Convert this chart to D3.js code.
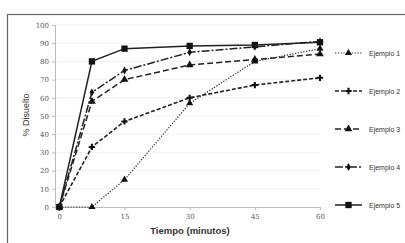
<!DOCTYPE html>
<html lang="es">
<head>
<meta charset="utf-8"/>
<style>
  body { margin: 0; background: #fff; }
  svg { display: block; }
  .tick text { font-family: "DejaVu Serif", serif; font-size: 7px; fill: #555; }
  .legend text { font-family: "Liberation Sans", Arial, sans-serif; font-size: 7px; fill: #333; }
</style>
</head>
<body>
<svg id="chart" width="405" height="243"></svg>
<script src="https://d3js.org/d3.v7.min.js"></script>
<script>
  // tiempos de muestreo (minutos)
  let tiempos = [0, 7.5, 15, 30, 45, 60]
  let ejemplo1 = [0, 0, 15, 57, 80, 87]
  let ejemplo2 = [0, 33, 47, 60, 67, 71]
  let ejemplo3 = [0, 58, 70, 78, 81, 84]
  let ejemplo4 = [0, 63, 75, 85, 88, 91]
  let ejemplo5 = [0, 80, 87, 88.5, 89, 90.5]
  let nombres = ["Ejemplo 1", "Ejemplo 2", "Ejemplo 3", "Ejemplo 4", "Ejemplo 5"]
  let xTicks = [0, 15, 30, 45, 60]
  let yTicks = [0, 10, 20, 30, 40, 50, 60, 70, 80, 90, 100]

  let series = [ejemplo1, ejemplo2, ejemplo3, ejemplo4, ejemplo5]
  // estilo de cada serie: trazo y marcador
  let dashes = ["1.2,1.6", "4,2", "6,3", "8,2,2,2", null]
  let widths = [1.2, 1.6, 1.5, 1.5, 1.5]
  let symbols = [d3.symbolTriangle, d3.symbolCross, d3.symbolTriangle, d3.symbolDiamond, d3.symbolSquare]
  let sizes = [22, 22, 26, 18, 40]

  let svg = d3.select("#chart")

  // marco del grafico
  svg.append("rect")
    .attr("x", 7.5).attr("y", 14.5)
    .attr("width", 410).attr("height", 240)
    .attr("fill", "none").attr("stroke", "#666").attr("stroke-width", 1.2)

  let xScale = d3.scaleLinear().domain([-1, 60]).range([55, 320])
  let yScale = d3.scaleLinear().domain([0, 100]).range([207, 25])

  // lineas de cuadricula
  svg.append("g")
    .selectAll("line")
    .data(yTicks.slice(1))
    .enter()
    .append("line")
    .attr("x1", xScale(-1)).attr("x2", xScale(60))
    .attr("y1", d => yScale(d)).attr("y2", d => yScale(d))
    .attr("stroke", "#eee").attr("stroke-width", 0.8)

  let yAxis = svg.append("g")
    .attr("transform", "translate(" + xScale(-1) + ",0)")
    .call(d3.axisLeft(yScale).tickValues(yTicks).tickSize(3).tickPadding(3))
  yAxis.selectAll("line, path").attr("stroke", "#bbb")

  let xAxis = svg.append("g")
    .attr("transform", "translate(0," + yScale(0) + ")")
    .call(d3.axisBottom(xScale).tickValues(xTicks).tickSize(3).tickPadding(4).tickSizeOuter(0))
  xAxis.selectAll("line, path").attr("stroke", "#bbb")

  svg.append("text")
    .attr("transform", "translate(29,115) rotate(-90)")
    .attr("text-anchor", "middle")
    .style("font-family", "Liberation Sans, Arial, sans-serif")
    .style("font-size", "9px").style("fill", "#333")
    .text("% Disuelto")

  svg.append("text")
    .attr("x", 190).attr("y", 234)
    .attr("text-anchor", "middle")
    .style("font-family", "Liberation Sans, Arial, sans-serif")
    .style("font-size", "9.5px").style("font-weight", "bold").style("fill", "#333")
    .text("Tiempo (minutos)")

  let line = d3.line()
    .x((d, i) => xScale(tiempos[i]))
    .y(d => yScale(d))

  series.forEach((s, k) => {
    svg.append("path")
      .datum(s)
      .attr("d", line)
      .attr("fill", "none")
      .attr("stroke", "#222")
      .attr("stroke-width", widths[k])
      .attr("stroke-dasharray", dashes[k])

    svg.append("g")
      .selectAll("path")
      .data(s)
      .enter()
      .append("path")
      .attr("d", d3.symbol().type(symbols[k]).size(sizes[k]))
      .attr("transform", (d, i) => "translate(" + xScale(tiempos[i]) + "," + yScale(d) + ")")
      .attr("fill", "#111")
  })

  // leyenda
  let legend = svg.append("g").attr("class", "legend")
  nombres.forEach((n, k) => {
    let y = 53 + k * 38
    legend.append("line")
      .attr("x1", 335).attr("x2", 362).attr("y1", y).attr("y2", y)
      .attr("stroke", "#222").attr("stroke-width", widths[k])
      .attr("stroke-dasharray", dashes[k])
    legend.append("path")
      .attr("d", d3.symbol().type(symbols[k]).size(sizes[k]))
      .attr("transform", "translate(348.5," + y + ")")
      .attr("fill", "#111")
    legend.append("text")
      .attr("x", 369).attr("y", y + 2.5)
      .text(n)
  })
</script>
</body>
</html>
